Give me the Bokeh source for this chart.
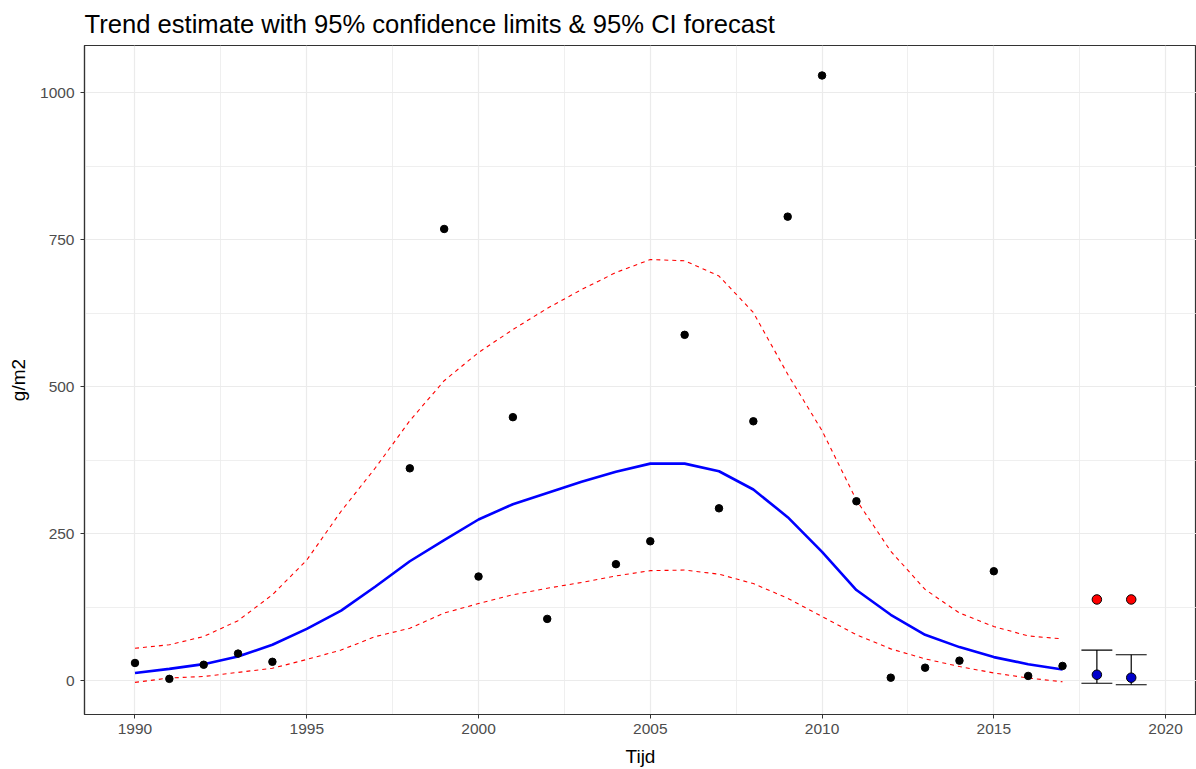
from bokeh.plotting import figure
from bokeh.models import Range1d, FixedTicker, ColumnDataSource
from bokeh.embed import file_html
from bokeh.resources import INLINE

# Observed data
obs_years = [1990, 1991, 1992, 1993, 1994, 1998, 1999, 2000, 2001, 2002, 2004, 2005,
             2006, 2007, 2008, 2009, 2010, 2011, 2012, 2013, 2014, 2015, 2016, 2017]
obs_values = [30, 3, 27, 46, 32, 361, 768, 177, 448, 105, 198, 237,
              588, 293, 441, 789, 1029, 305, 5, 22, 34, 186, 8, 25]

# Trend estimate with confidence limits
trend_years = list(range(1990, 2018))
trend = [13, 20, 28, 41, 61, 88, 119, 160, 203, 239, 274, 300, 319, 338, 355, 369,
         369, 356, 325, 278, 219, 154, 112, 78, 57, 40, 28, 19]
upper = [55, 61, 75, 102, 146, 205, 288, 362, 442, 510, 558, 597, 633, 665, 694, 716,
         714, 688, 626, 521, 425, 307, 220, 155, 115, 92, 76, 71]
lower = [-3, 4.5, 7, 14, 21, 36, 52, 75, 89, 115, 131, 146, 157, 167, 178, 187,
         188, 181, 165, 140, 109, 78, 54, 37, 24, 13, 4.5, -2]

# Forecast
fc_years = [2018, 2019]
fc_obs = [138, 138]
fc_pred = [10, 5]
fc_lower = [-4.5, -7]
fc_upper = [52, 44]

x_ticks = [1990, 1995, 2000, 2005, 2010, 2015, 2020]
y_ticks = [0, 250, 500, 750, 1000]

FONT = "Liberation Sans"

p = figure(width=1196, height=769, output_backend="svg", toolbar_location=None,
           x_range=Range1d(1988.53, 2020.9), y_range=Range1d(-57.6, 1080),
           title="Trend estimate with 95% confidence limits & 95% CI forecast",
           min_border_left=84, min_border_right=0, min_border_top=44,
           min_border_bottom=54)

p.title.text_font = FONT
p.title.text_font_size = "25.6px"
p.title.text_font_style = "normal"
p.title.text_color = "black"
p.title.align = "left"
p.title.offset = 0
p.title.standoff = 15

p.background_fill_color = "white"
p.border_fill_color = "white"
p.outline_line_color = "#333333"
p.outline_line_width = 1.2

p.xaxis.ticker = FixedTicker(ticks=x_ticks, minor_ticks=[1987.5 + 5 * i for i in range(8)])
p.yaxis.ticker = FixedTicker(ticks=y_ticks, minor_ticks=[125, 375, 625, 875])

for ax in (p.xaxis[0], p.yaxis[0]):
    ax.axis_line_color = "#333333"
    ax.axis_line_width = 1.2
    ax.major_tick_line_color = "#333333"
    ax.major_tick_in = 0
    ax.major_tick_out = 4
    ax.minor_tick_line_color = None
    ax.major_label_text_font = FONT
    ax.major_label_text_font_size = "15.5px"
    ax.major_label_text_color = "#4D4D4D"
    ax.axis_label_text_font = FONT
    ax.axis_label_text_font_size = "19px"
    ax.axis_label_text_font_style = "normal"
    ax.axis_label_text_color = "black"

p.xaxis.axis_label = "Tijd"
p.yaxis.axis_label = "g/m2"
p.xaxis.major_label_standoff = 5
p.yaxis.major_label_standoff = 6
p.xaxis.axis_label_standoff = 9
p.yaxis.axis_label_standoff = 8

for g in (p.xgrid[0], p.ygrid[0]):
    g.grid_line_color = "#EBEBEB"
    g.grid_line_width = 1.2
    g.minor_grid_line_color = "#EBEBEB"
    g.minor_grid_line_width = 0.8

# Confidence limits
p.line(trend_years, upper, line_color="#FF0000", line_width=1.1, line_dash="4 4")
p.line(trend_years, lower, line_color="#FF0000", line_width=1.1, line_dash="4 4")
# Trend
p.line(trend_years, trend, line_color="#0000FF", line_width=2.6)
# Observed
p.scatter(obs_years, obs_values, size=7.5, fill_color="black", line_color="black")

# Forecast error bars
src = ColumnDataSource(dict(x=fc_years, lo=fc_lower, hi=fc_upper))
p.segment(x0="x", y0="lo", x1="x", y1="hi", source=src, line_color="black", line_width=1.2)
wsrc_lo = ColumnDataSource(dict(x0=[y - 0.45 for y in fc_years], x1=[y + 0.45 for y in fc_years], y=fc_lower))
wsrc_hi = ColumnDataSource(dict(x0=[y - 0.45 for y in fc_years], x1=[y + 0.45 for y in fc_years], y=fc_upper))
p.segment(x0="x0", y0="y", x1="x1", y1="y", source=wsrc_lo, line_color="black", line_width=1.2)
p.segment(x0="x0", y0="y", x1="x1", y1="y", source=wsrc_hi, line_color="black", line_width=1.2)
p.scatter(fc_years, fc_pred, size=9.5, fill_color="#0000CC", line_color="black", line_width=1)
p.scatter(fc_years, fc_obs, size=9.5, fill_color="#FF0000", line_color="black", line_width=1)

open("out.html", "w").write(file_html(p, INLINE))
